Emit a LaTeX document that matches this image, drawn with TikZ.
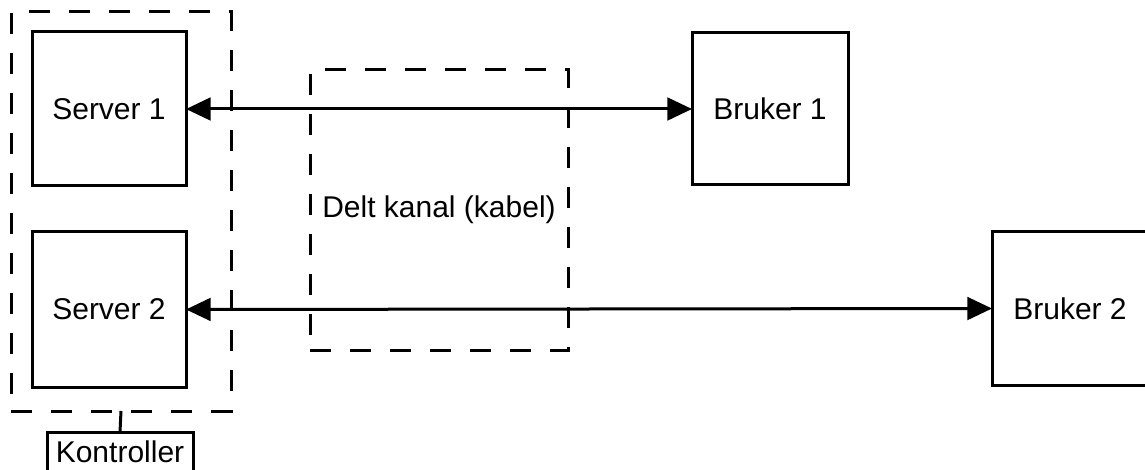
\documentclass[tikz,border=0pt]{standalone}
\usepackage{fontspec}
\setmainfont{Liberation Sans}
\usetikzlibrary{arrows.meta}
\begin{document}
\begin{tikzpicture}[x=0.75pt,y=-0.75pt,
  box/.style={draw=black,line width=2.25pt,fill=white,rectangle,inner sep=0pt,outer sep=0pt,
    font=\fontsize{22.5}{27}\selectfont,text=black},
  group/.style={draw=black,line width=2.25pt,rectangle,inner sep=0pt,outer sep=0pt,
    dash pattern=on 15.75pt off 14.25pt,font=\fontsize{22.5}{27}\selectfont,text=black},
  link/.style={line width=2.25pt,{Triangle[length=18.5pt,width=17pt]}-{Triangle[length=18.5pt,width=17pt]}},
  stem/.style={line width=2.25pt}]
\clip (0,0) rectangle (1145,470);
\fill[white] (0,0) rectangle (1145,470);
% dashed groups
\node[group,minimum width=165pt,minimum height=299.25pt] (grp) at (121,211.5) {};
\node[group,minimum width=193.5pt,minimum height=210pt] (kanal) at (439,210) {Delt kanal (kabel)};
% boxes
\node[box,minimum width=115.5pt,minimum height=115.5pt] (s1) at (109,109) {Server 1};
\node[box,minimum width=115.5pt,minimum height=116.25pt] (s2) at (109,309.5) {Server 2};
\node[box,minimum width=117pt,minimum height=114pt] (b1) at (770,109) {Bruker 1};
\node[box,minimum width=117pt,minimum height=114.75pt] (b2) at (1070,308.5) {Bruker 2};
\node[box,minimum width=109.5pt,minimum height=30pt] (k) at (120,452) {Kontroller};
% connectors
\draw[link] (s1.east) -- (b1.west);
\draw[link] (s2.east) -- (b2.west);
\draw[stem] (grp.south) -- (k.north);
\end{tikzpicture}
\end{document}
